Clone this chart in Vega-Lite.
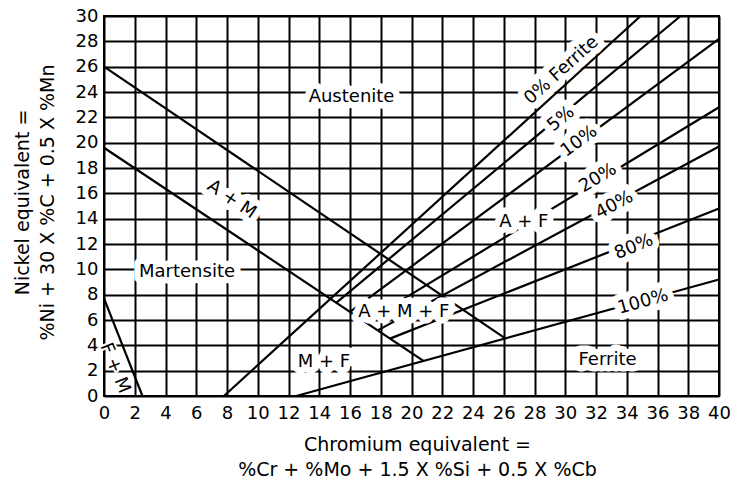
{
  "$schema": "https://vega.github.io/schema/vega-lite/v6.json",
  "width": 615,
  "height": 380,
  "autosize": {"type": "none"},
  "padding": {"left": 104, "top": 16, "right": 13, "bottom": 84},
  "background": "white",
  "config": {
    "font": "DejaVu Sans",
    "view": {"stroke": "black", "strokeWidth": 2},
    "axis": {
      "grid": true, "gridColor": "black", "gridOpacity": 1, "gridWidth": 2,
      "domain": false, "ticks": false,
      "labelFont": "DejaVu Sans", "labelFontSize": 18, "labelColor": "black",
      "labelOverlap": false, "labelFlush": false,
      "titleFont": "DejaVu Sans", "titleFontSize": 19, "titleFontWeight": "normal", "titleColor": "black",
      "titleLineHeight": 25
    },
    "text": {"font": "DejaVu Sans", "fontSize": 18, "align": "center", "baseline": "middle"}
  },
  "datasets": {
    "lines": [
      {"id": "um", "x": 0, "y": 26}, {"id": "um", "x": 26.1, "y": 4.55},
      {"id": "lm", "x": 0, "y": 19.6}, {"id": "lm", "x": 20.8, "y": 2.75},
      {"id": "fm", "x": 0, "y": 7.7}, {"id": "fm", "x": 2.5, "y": 0},
      {"id": "f0", "x": 7.8, "y": 0}, {"id": "f0", "x": 34.9, "y": 30},
      {"id": "f5", "x": 15.1, "y": 7.35}, {"id": "f5", "x": 37.5, "y": 30},
      {"id": "f10", "x": 16.0, "y": 6.64}, {"id": "f10", "x": 40, "y": 28.2},
      {"id": "f20", "x": 17.0, "y": 5.83}, {"id": "f20", "x": 40, "y": 22.8},
      {"id": "f40", "x": 17.8, "y": 5.18}, {"id": "f40", "x": 40, "y": 19.7},
      {"id": "f80", "x": 18.6, "y": 4.53}, {"id": "f80", "x": 40, "y": 14.8},
      {"id": "f100", "x": 12.5, "y": 0}, {"id": "f100", "x": 40, "y": 9.2}
    ],
    "labels": [
      {"label": "Austenite", "x": 16.1, "y": 23.6},
      {"label": "Martensite", "x": 5.4, "y": 9.8},
      {"label": "A + M + F", "x": 19.5, "y": 6.6},
      {"label": "M + F", "x": 14.3, "y": 2.7},
      {"label": "A + F", "x": 27.3, "y": 13.75},
      {"label": "Ferrite", "x": 32.75, "y": 2.84},
      {"label": "A + M", "x": 8.3, "y": 15.5},
      {"label": "F + M", "x": 0.7, "y": 2.2},
      {"label": "0% Ferrite", "x": 29.76, "y": 25.7},
      {"label": "5%", "x": 29.73, "y": 21.86},
      {"label": "10%", "x": 30.9, "y": 20.1},
      {"label": "20%", "x": 32.13, "y": 17.2},
      {"label": "40%", "x": 33.2, "y": 15.07},
      {"label": "80%", "x": 34.47, "y": 11.76},
      {"label": "100%", "x": 35.06, "y": 7.42}
    ]
  },
  "encoding": {
    "x": {
      "field": "x", "type": "quantitative",
      "scale": {"domain": [0, 40], "nice": false, "zero": false},
      "axis": {
        "values": [0, 2, 4, 6, 8, 10, 12, 14, 16, 18, 20, 22, 24, 26, 28, 30, 32, 34, 36, 38, 40],
        "labelPadding": 8,
        "title": ["Chromium equivalent =", "%Cr + %Mo + 1.5 X %Si + 0.5 X %Cb"],
        "titleX": 313, "titleY": 54, "titleAlign": "center", "titleBaseline": "alphabetic", "titleAnchor": null
      }
    },
    "y": {
      "field": "y", "type": "quantitative",
      "scale": {"domain": [0, 30], "nice": false, "zero": false},
      "axis": {
        "values": [0, 2, 4, 6, 8, 10, 12, 14, 16, 18, 20, 22, 24, 26, 28, 30],
        "labelPadding": 6,
        "title": ["Nickel equivalent =", "%Ni + 30 X %C + 0.5 X %Mn"],
        "titleX": -76, "titleY": 186, "titleAngle": -90, "titleAlign": "center", "titleBaseline": "alphabetic", "titleAnchor": null
      }
    }
  },
  "layer": [
    {
      "data": {"name": "lines"},
      "mark": {"type": "line", "color": "black", "strokeWidth": 2.2},
      "encoding": {"detail": {"field": "id"}, "order": {"field": "x"}}
    },
    {
      "data": {"name": "labels"},
      "transform": [{"filter": "indexof(['Austenite','Martensite','A + M + F','M + F','A + F','Ferrite'], datum.label) >= 0"}],
      "encoding": {"text": {"field": "label"}},
      "layer": [
        {"mark": {"type": "text", "stroke": "white", "strokeWidth": 13, "strokeJoin": "round", "fill": "white"}},
        {"mark": {"type": "text", "fill": "black"}}
      ]
    },
    {
      "data": {"name": "labels"},
      "transform": [{"filter": "datum.label === 'A + M'"}],
      "encoding": {"text": {"field": "label"}},
      "layer": [
        {"mark": {"type": "text", "angle": 34, "stroke": "white", "strokeWidth": 13, "strokeJoin": "round", "fill": "white"}},
        {"mark": {"type": "text", "angle": 34, "fill": "black"}}
      ]
    },
    {
      "data": {"name": "labels"},
      "transform": [{"filter": "datum.label === 'F + M'"}],
      "encoding": {"text": {"field": "label"}},
      "layer": [
        {"mark": {"type": "text", "angle": 68, "stroke": "white", "strokeWidth": 4, "strokeJoin": "round", "fill": "white"}},
        {"mark": {"type": "text", "angle": 68, "fill": "black"}}
      ]
    },
    {
      "data": {"name": "labels"},
      "transform": [{"filter": "datum.label === '0% Ferrite'"}],
      "encoding": {"text": {"field": "label"}},
      "layer": [
        {"mark": {"type": "text", "angle": -42, "stroke": "white", "strokeWidth": 13, "strokeJoin": "round", "fill": "white"}},
        {"mark": {"type": "text", "angle": -42, "fill": "black"}}
      ]
    },
    {
      "data": {"name": "labels"},
      "transform": [{"filter": "datum.label === '5%'"}],
      "encoding": {"text": {"field": "label"}},
      "layer": [
        {"mark": {"type": "text", "angle": -40, "stroke": "white", "strokeWidth": 13, "strokeJoin": "round", "fill": "white"}},
        {"mark": {"type": "text", "angle": -40, "fill": "black"}}
      ]
    },
    {
      "data": {"name": "labels"},
      "transform": [{"filter": "datum.label === '10%'"}],
      "encoding": {"text": {"field": "label"}},
      "layer": [
        {"mark": {"type": "text", "angle": -36.5, "stroke": "white", "strokeWidth": 13, "strokeJoin": "round", "fill": "white"}},
        {"mark": {"type": "text", "angle": -36.5, "fill": "black"}}
      ]
    },
    {
      "data": {"name": "labels"},
      "transform": [{"filter": "datum.label === '20%'"}],
      "encoding": {"text": {"field": "label"}},
      "layer": [
        {"mark": {"type": "text", "angle": -31, "stroke": "white", "strokeWidth": 13, "strokeJoin": "round", "fill": "white"}},
        {"mark": {"type": "text", "angle": -31, "fill": "black"}}
      ]
    },
    {
      "data": {"name": "labels"},
      "transform": [{"filter": "datum.label === '40%'"}],
      "encoding": {"text": {"field": "label"}},
      "layer": [
        {"mark": {"type": "text", "angle": -28, "stroke": "white", "strokeWidth": 13, "strokeJoin": "round", "fill": "white"}},
        {"mark": {"type": "text", "angle": -28, "fill": "black"}}
      ]
    },
    {
      "data": {"name": "labels"},
      "transform": [{"filter": "datum.label === '80%'"}],
      "encoding": {"text": {"field": "label"}},
      "layer": [
        {"mark": {"type": "text", "angle": -22, "stroke": "white", "strokeWidth": 13, "strokeJoin": "round", "fill": "white"}},
        {"mark": {"type": "text", "angle": -22, "fill": "black"}}
      ]
    },
    {
      "data": {"name": "labels"},
      "transform": [{"filter": "datum.label === '100%'"}],
      "encoding": {"text": {"field": "label"}},
      "layer": [
        {"mark": {"type": "text", "angle": -15.5, "stroke": "white", "strokeWidth": 13, "strokeJoin": "round", "fill": "white"}},
        {"mark": {"type": "text", "angle": -15.5, "fill": "black"}}
      ]
    }
  ]
}
